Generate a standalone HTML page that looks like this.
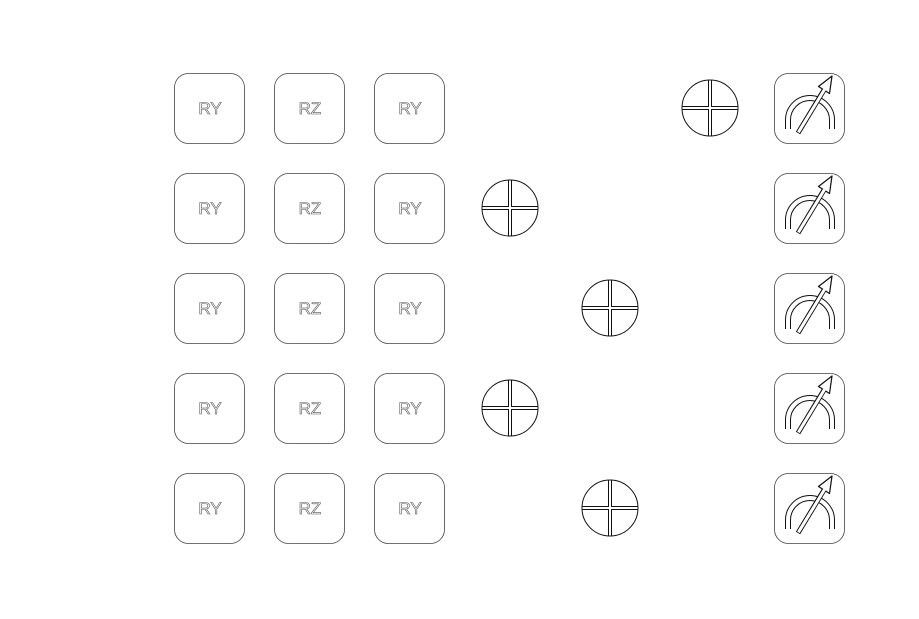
<!DOCTYPE html>
<html><head><meta charset="utf-8"><style>html,body{margin:0;padding:0;background:#fff;}svg{display:block}</style></head>
<body>
<svg width="919" height="619" viewBox="0 0 919 619" xmlns="http://www.w3.org/2000/svg">
<defs>
<g id="box"><rect x="0.5" y="0.5" width="70" height="70" rx="14" fill="#fff" stroke="#444" stroke-width="0.8"/></g>
<g id="plus">
  <circle r="28" fill="#fff" stroke="#111" stroke-width="1"/>
  <line x1="-28" y1="0" x2="28" y2="0" stroke="#111" stroke-width="4"/>
  <line x1="0" y1="-28" x2="0" y2="28" stroke="#111" stroke-width="4"/>
  <line x1="-27.5" y1="0" x2="27.5" y2="0" stroke="#fff" stroke-width="2"/>
  <line x1="0" y1="-27.5" x2="0" y2="27.5" stroke="#fff" stroke-width="2"/>
</g>
<g id="meter">
  <rect x="0.5" y="0.5" width="70" height="70" rx="14" fill="#fff" stroke="#444" stroke-width="0.8"/>
  <path d="M14 56 L14 47 A22 22 0 0 1 58 47 L58 56" fill="none" stroke="#111" stroke-width="6"/>
  <path d="M14 56 L14 47 A22 22 0 0 1 58 47 L58 56" fill="none" stroke="#fff" stroke-width="4"/>
  <line x1="24" y1="60" x2="50" y2="17" stroke="#111" stroke-width="5"/>
  <path d="M58 3 L44.5 13.5 L50 17 L55.5 20.5 Z" fill="#fff" stroke="#111" stroke-width="1.2" stroke-linejoin="round"/>
  <line x1="24.4" y1="59.3" x2="50.5" y2="16.5" stroke="#fff" stroke-width="3"/>
</g>
</defs>
<g font-family="Liberation Sans, sans-serif" font-size="17" text-anchor="middle" fill="#fff" stroke="#555" stroke-width="0.6">
<use href="#box" x="174" y="73"/><use href="#box" x="274" y="73"/><use href="#box" x="374" y="73"/>
<use href="#box" x="174" y="173"/><use href="#box" x="274" y="173"/><use href="#box" x="374" y="173"/>
<use href="#box" x="174" y="273"/><use href="#box" x="274" y="273"/><use href="#box" x="374" y="273"/>
<use href="#box" x="174" y="373"/><use href="#box" x="274" y="373"/><use href="#box" x="374" y="373"/>
<use href="#box" x="174" y="473"/><use href="#box" x="274" y="473"/><use href="#box" x="374" y="473"/>
<text x="210" y="114">RY</text><text x="310" y="114">RZ</text><text x="410" y="114">RY</text>
<text x="210" y="214">RY</text><text x="310" y="214">RZ</text><text x="410" y="214">RY</text>
<text x="210" y="314">RY</text><text x="310" y="314">RZ</text><text x="410" y="314">RY</text>
<text x="210" y="414">RY</text><text x="310" y="414">RZ</text><text x="410" y="414">RY</text>
<text x="210" y="514">RY</text><text x="310" y="514">RZ</text><text x="410" y="514">RY</text>
</g>
<use href="#plus" x="710" y="108"/>
<use href="#plus" x="510" y="208"/>
<use href="#plus" x="610" y="308"/>
<use href="#plus" x="510" y="408"/>
<use href="#plus" x="610" y="508"/>
<use href="#meter" x="774" y="73"/>
<use href="#meter" x="774" y="173"/>
<use href="#meter" x="774" y="273"/>
<use href="#meter" x="774" y="373"/>
<use href="#meter" x="774" y="473"/>
</svg>
</body></html>
